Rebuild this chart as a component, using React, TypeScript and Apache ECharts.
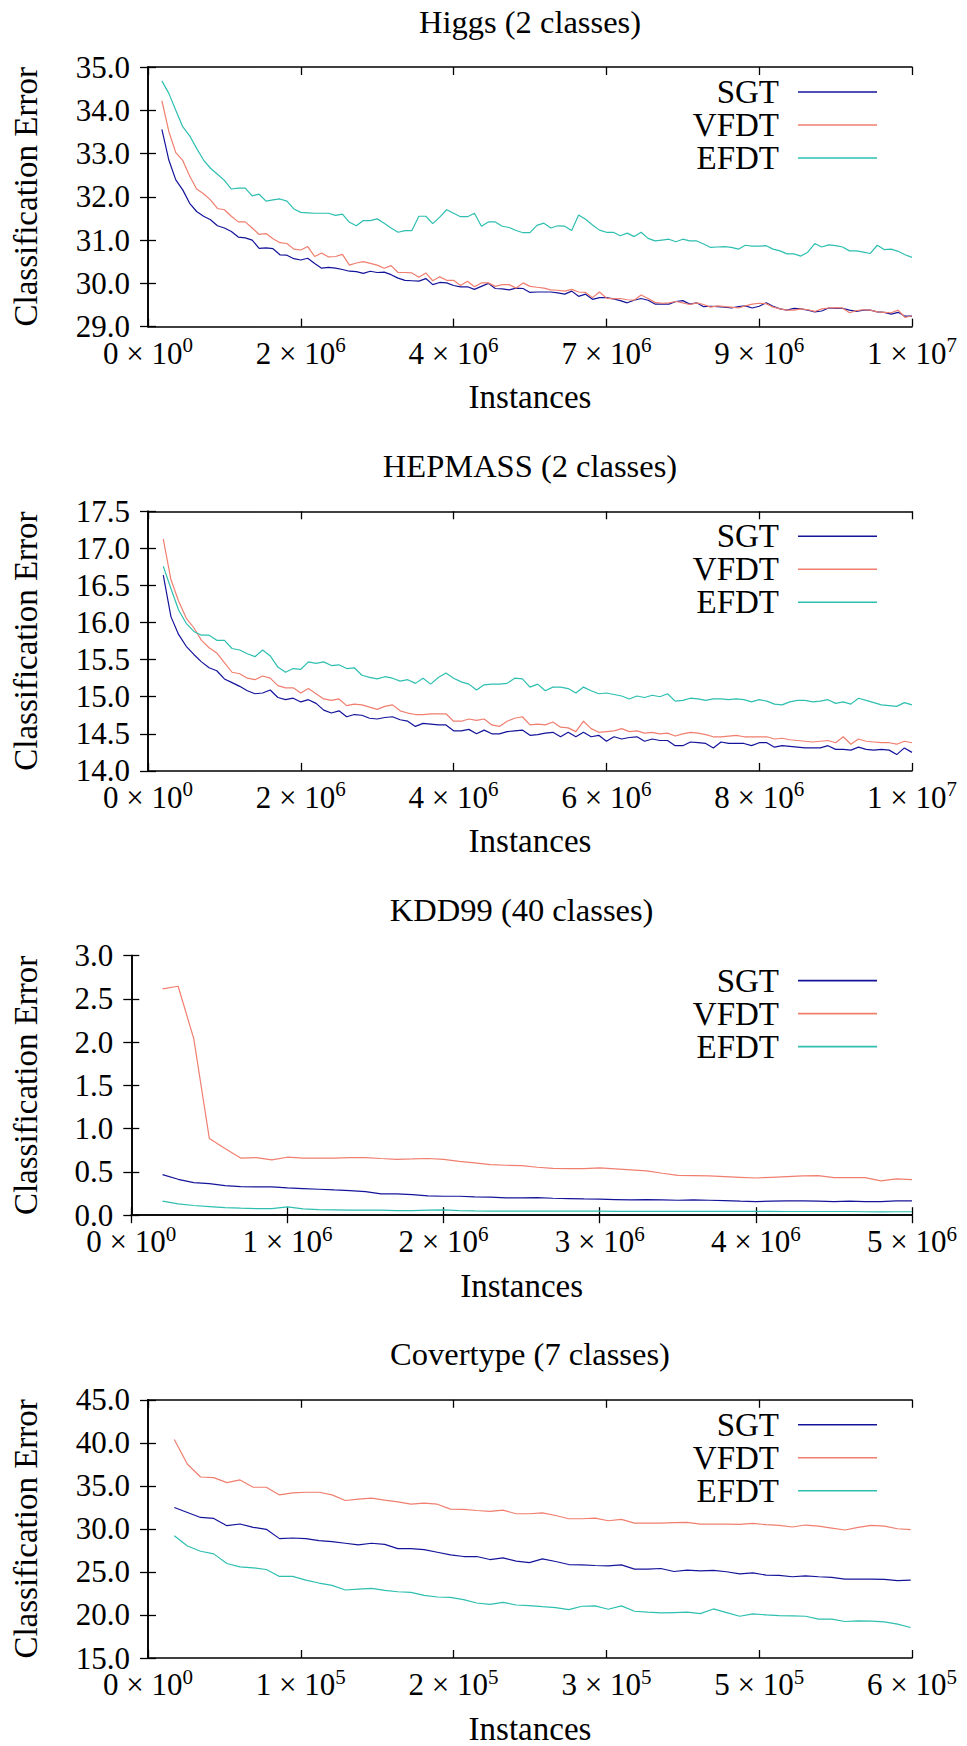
import React, { useEffect, useRef } from 'react';
import * as echarts from 'echarts';

// ---------- data ----------
const seriesNames = ['SGT', 'VFDT', 'EFDT'];
const seriesColors = ['#14149a', '#f07f6f', '#2ebfb0'];

const yAxisName = 'Classification Error';
const xAxisName = 'Instances';

// Higgs (2 classes): evaluated every 100k instances, starting at 200k
const higgsTitle = 'Higgs (2 classes)';
const higgsStart = 200000;
const higgsStep = 100000;
const higgsSGT = [
  33.56, 32.85, 32.39, 32.16, 31.85, 31.66, 31.55, 31.47, 31.33,
  31.28, 31.2, 31.07, 31.05, 31.0, 30.81, 30.82, 30.8, 30.66, 30.65,
  30.57, 30.54, 30.58, 30.46, 30.35, 30.37, 30.35, 30.32, 30.28, 30.27,
  30.23, 30.28, 30.25, 30.26, 30.2, 30.12, 30.07, 30.06, 30.05, 30.11,
  29.97, 30.02, 30.01, 29.95, 29.92, 29.92, 29.86, 29.93, 30.0, 29.88,
  29.87, 29.85, 29.89, 29.88, 29.79, 29.8, 29.8, 29.8, 29.78, 29.75,
  29.82, 29.7, 29.75, 29.63, 29.67, 29.67, 29.64, 29.6, 29.55, 29.61,
  29.65, 29.61, 29.52, 29.52, 29.52, 29.58, 29.6, 29.52, 29.55, 29.46,
  29.47, 29.46, 29.45, 29.43, 29.46, 29.48, 29.43, 29.47, 29.55, 29.47,
  29.41, 29.38, 29.42, 29.41, 29.38, 29.34, 29.36, 29.43, 29.42, 29.42,
  29.38, 29.35, 29.38, 29.38, 29.34, 29.33, 29.29, 29.33, 29.24, 29.24,
];
const higgsVFDT = [
  34.22, 33.51, 33.02, 32.84, 32.48, 32.18, 32.07, 31.93, 31.73,
  31.7, 31.55, 31.42, 31.42, 31.28, 31.13, 31.15, 31.03, 30.94, 30.92,
  30.79, 30.77, 30.85, 30.62, 30.7, 30.61, 30.62, 30.67, 30.42, 30.47,
  30.5, 30.46, 30.42, 30.35, 30.41, 30.25, 30.25, 30.24, 30.14, 30.24,
  30.06, 30.15, 30.07, 30.07, 29.95, 30.05, 29.92, 30.01, 30.01, 29.93,
  29.97, 29.97, 29.89, 30.01, 29.93, 29.91, 29.89, 29.85, 29.84, 29.82,
  29.86, 29.8, 29.79, 29.67, 29.8, 29.66, 29.64, 29.65, 29.62, 29.61,
  29.73, 29.65, 29.56, 29.54, 29.55, 29.58, 29.55, 29.51, 29.55, 29.51,
  29.45, 29.48, 29.46, 29.45, 29.43, 29.48, 29.52, 29.54, 29.53, 29.45,
  29.41, 29.38, 29.38, 29.41, 29.39, 29.35, 29.41, 29.43, 29.44, 29.43,
  29.32, 29.37, 29.39, 29.38, 29.34, 29.33, 29.32, 29.38, 29.21, 29.25,
];
const higgsEFDT = [
  34.68, 34.39, 34.0, 33.62, 33.41, 33.12, 32.85, 32.66, 32.52,
  32.38, 32.18, 32.2, 32.2, 32.02, 32.06, 31.9, 31.93, 31.95, 31.9,
  31.72, 31.64, 31.63, 31.62, 31.62, 31.62, 31.57, 31.6, 31.41, 31.33,
  31.45, 31.45, 31.49, 31.39, 31.28, 31.18, 31.22, 31.22, 31.55, 31.55,
  31.38, 31.53, 31.7, 31.62, 31.54, 31.54, 31.62, 31.32, 31.42, 31.42,
  31.32, 31.29, 31.22, 31.17, 31.17, 31.34, 31.39, 31.28, 31.33, 31.32,
  31.22, 31.58, 31.48, 31.35, 31.23, 31.18, 31.18, 31.1, 31.16, 31.08,
  31.18, 31.04, 30.98, 31.0, 31.02, 30.96, 31.02, 30.98, 30.98, 30.91,
  30.83, 30.84, 30.85, 30.83, 30.79, 30.88, 30.86, 30.86, 30.87, 30.79,
  30.75, 30.68, 30.68, 30.63, 30.72, 30.92, 30.84, 30.89, 30.87, 30.84,
  30.75, 30.75, 30.72, 30.69, 30.88, 30.78, 30.79, 30.74, 30.66, 30.6,
];

// HEPMASS (2 classes)
const hepTitle = 'HEPMASS (2 classes)';
const hepStart = 210000;
const hepStep = 105000;
const hepSGT = [
  16.64, 16.08, 15.84, 15.68, 15.57, 15.47, 15.39, 15.35, 15.24,
  15.19, 15.14, 15.08, 15.04, 15.05, 15.09, 14.99, 14.96, 14.98, 14.93,
  14.96, 14.91, 14.82, 14.78, 14.81, 14.73, 14.76, 14.75, 14.71, 14.7,
  14.72, 14.73, 14.69, 14.67, 14.6, 14.64, 14.63, 14.62, 14.62, 14.54,
  14.54, 14.56, 14.5, 14.55, 14.5, 14.5, 14.53, 14.54, 14.55, 14.48,
  14.49, 14.51, 14.52, 14.46, 14.52, 14.46, 14.52, 14.46, 14.48, 14.4,
  14.46, 14.43, 14.45, 14.46, 14.4, 14.43, 14.41, 14.41, 14.34, 14.34,
  14.39, 14.38, 14.37, 14.31, 14.39, 14.37, 14.37, 14.37, 14.34, 14.38,
  14.38, 14.32, 14.34, 14.33, 14.32, 14.31, 14.31, 14.31, 14.34, 14.29,
  14.29, 14.28, 14.32, 14.29, 14.28, 14.29, 14.28, 14.22, 14.31, 14.25,
];
const hepVFDT = [
  17.125, 16.58, 16.29, 16.06, 15.93, 15.76, 15.66, 15.59, 15.46,
  15.33, 15.31, 15.25, 15.23, 15.28, 15.25, 15.15, 15.12, 15.12, 15.05,
  15.11, 15.04, 14.97, 14.95, 14.97, 14.88, 14.9, 14.89, 14.86, 14.83,
  14.87, 14.89, 14.81, 14.78, 14.76, 14.76, 14.77, 14.77, 14.77, 14.67,
  14.67, 14.7, 14.68, 14.7, 14.62, 14.6, 14.67, 14.71, 14.73, 14.62,
  14.63, 14.62, 14.66, 14.59, 14.58, 14.53, 14.67, 14.57, 14.52, 14.53,
  14.54, 14.57, 14.53, 14.54, 14.51, 14.52, 14.5, 14.51, 14.47, 14.5,
  14.52, 14.51, 14.49, 14.46, 14.46, 14.47, 14.48, 14.46, 14.46, 14.46,
  14.46, 14.43, 14.44, 14.42, 14.41, 14.4, 14.39, 14.4, 14.41, 14.38,
  14.46, 14.36, 14.43, 14.4, 14.39, 14.38, 14.38, 14.36, 14.4, 14.38,
];
const hepEFDT = [
  16.76, 16.46, 16.17, 15.99, 15.88, 15.83, 15.83, 15.76, 15.76,
  15.65, 15.63, 15.58, 15.54, 15.63, 15.55, 15.4, 15.33, 15.38, 15.37,
  15.47, 15.45, 15.47, 15.42, 15.43, 15.38, 15.39, 15.29, 15.26, 15.24,
  15.27, 15.25, 15.21, 15.23, 15.18, 15.25, 15.17, 15.26, 15.32, 15.25,
  15.2, 15.17, 15.09, 15.16, 15.17, 15.17, 15.18, 15.25, 15.24, 15.13,
  15.17, 15.08, 15.13, 15.13, 15.11, 15.05, 15.13, 15.08, 15.04, 15.05,
  15.03, 15.01, 14.97, 15.01, 14.99, 15.02, 15.0, 15.04, 14.94, 14.95,
  14.98, 14.97, 14.95, 14.97, 14.97, 14.96, 14.97, 14.96, 14.93, 14.96,
  14.94, 14.9, 14.89, 14.93, 14.95, 14.95, 14.93, 14.94, 14.96, 14.91,
  14.93, 14.9, 14.98, 14.95, 14.92, 14.89, 14.88, 14.87, 14.92, 14.89,
];

// KDD99 (40 classes)
const kddTitle = 'KDD99 (40 classes)';
const kddStart = 196000;
const kddStep = 98000;
const kddSGT = [
  0.469, 0.415, 0.377, 0.365, 0.342, 0.331, 0.327, 0.327, 0.315,
  0.308, 0.3, 0.292, 0.285, 0.273, 0.246, 0.246, 0.238, 0.223, 0.219,
  0.219, 0.212, 0.208, 0.2, 0.2, 0.204, 0.196, 0.192, 0.188, 0.185,
  0.181, 0.177, 0.181, 0.177, 0.173, 0.177, 0.173, 0.169, 0.162, 0.158,
  0.162, 0.165, 0.165, 0.162, 0.158, 0.162, 0.158, 0.158, 0.165, 0.165,
];
const kddVFDT = [
  2.615, 2.646, 2.04, 0.885, 0.77, 0.66, 0.665, 0.64, 0.67,
  0.66, 0.66, 0.66, 0.665, 0.665, 0.655, 0.646, 0.65, 0.655, 0.646,
  0.623, 0.604, 0.585, 0.577, 0.573, 0.554, 0.542, 0.538, 0.538, 0.546,
  0.535, 0.523, 0.512, 0.485, 0.46, 0.458, 0.454, 0.446, 0.438, 0.43,
  0.438, 0.446, 0.454, 0.458, 0.435, 0.435, 0.435, 0.396, 0.419, 0.412,
];
const kddEFDT = [
  0.162, 0.131, 0.112, 0.1, 0.088, 0.081, 0.077, 0.077, 0.096,
  0.073, 0.065, 0.062, 0.058, 0.058, 0.058, 0.054, 0.054, 0.058, 0.062,
  0.054, 0.05, 0.048, 0.048, 0.048, 0.048, 0.046, 0.046, 0.046, 0.046,
  0.045, 0.045, 0.045, 0.045, 0.045, 0.045, 0.045, 0.044, 0.044, 0.044,
  0.044, 0.043, 0.043, 0.043, 0.043, 0.043, 0.04, 0.038, 0.04, 0.04,
];

// Covertype (7 classes)
const covTitle = 'Covertype (7 classes)';
const covStart = 20000;
const covStep = 10000;
const covSGT = [
  32.49, 31.91, 31.33, 31.22, 30.37, 30.57, 30.18, 29.95, 28.87,
  28.94, 28.87, 28.64, 28.52, 28.33, 28.14, 28.33, 28.21, 27.71, 27.71,
  27.6, 27.29, 26.98, 26.79, 26.79, 26.44, 26.63, 26.25, 26.09, 26.52,
  26.21, 25.86, 25.82, 25.75, 25.71, 25.82, 25.32, 25.32, 25.4, 25.05,
  25.21, 25.13, 25.17, 25.02, 24.78, 24.9, 24.63, 24.59, 24.44, 24.55,
  24.44, 24.36, 24.17, 24.17, 24.17, 24.13, 23.98, 24.05,
];
const covVFDT = [
  40.38, 37.51, 36.03, 35.96, 35.38, 35.69, 34.84, 34.84, 33.95,
  34.18, 34.26, 34.26, 33.95, 33.3, 33.45, 33.57, 33.34, 33.14, 32.87,
  32.99, 32.87, 32.3, 32.26, 32.14, 32.03, 32.18, 31.76, 31.76, 31.87,
  31.56, 31.18, 31.18, 31.26, 30.95, 31.1, 30.68, 30.68, 30.68, 30.72,
  30.76, 30.56, 30.56, 30.56, 30.52, 30.64, 30.49, 30.41, 30.22, 30.45,
  30.33, 30.1, 29.87, 30.18, 30.41, 30.33, 30.02, 29.91,
];
const covEFDT = [
  29.21, 28.02, 27.4, 27.1, 25.98, 25.59, 25.48, 25.28, 24.48,
  24.48, 24.05, 23.71, 23.44, 22.9, 23.01, 23.09, 22.86, 22.7, 22.63,
  22.28, 22.09, 22.05, 21.78, 21.39, 21.24, 21.47, 21.16, 21.09, 20.97,
  20.86, 20.62, 21.01, 21.05, 20.66, 21.05, 20.43, 20.32, 20.24, 20.28,
  20.32, 20.16, 20.7, 20.28, 19.85, 20.12, 20.01, 19.93, 19.89, 19.85,
  19.51, 19.51, 19.24, 19.31, 19.28, 19.2, 18.93, 18.54,
];

// axis ranges (x: total instances split in 5 tick intervals; y: error range)
const higgsX = [0, 11000000, 2200000];
const higgsY = [29, 35, 1];
const hepX = [0, 10500000, 2100000];
const hepY = [14, 17.5, 0.5];
const kddX = [0, 4900000, 980000];
const kddY = [0, 3, 0.5];
const covX = [0, 581000, 116200];
const covY = [15, 45, 5];

// ---------- layout / style ----------
const FONT = 'Liberation Serif';
const W = 967;
const H = 1746;
const PLOT_RIGHT = 912;
const PLOT_H = 259.6;

const panels = [
  { title: higgsTitle, left: 148, top: 67, x: higgsX, y: higgsY, start: higgsStart, step: higgsStep, data: [higgsSGT, higgsVFDT, higgsEFDT] },
  { title: hepTitle, left: 148, top: 511.3, x: hepX, y: hepY, start: hepStart, step: hepStep, data: [hepSGT, hepVFDT, hepEFDT] },
  { title: kddTitle, left: 131.3, top: 955.6, x: kddX, y: kddY, start: kddStart, step: kddStep, data: [kddSGT, kddVFDT, kddEFDT] },
  { title: covTitle, left: 148, top: 1399.8, x: covX, y: covY, start: covStart, step: covStep, data: [covSGT, covVFDT, covEFDT] },
];

function sciLabel(v: number): string {
  if (v === 0) return '{b|0 × 10}{s|0}';
  let e = Math.floor(Math.log10(v) + 1e-9);
  let m = Math.round(v / Math.pow(10, e));
  if (m >= 10) {
    m = 1;
    e += 1;
  }
  return `{b|${m} × 10}{s|${e}}`;
}

function buildOption() {
  const grid: any[] = [];
  const xAxis: any[] = [];
  const yAxis: any[] = [];
  const series: any[] = [];
  const title: any[] = [];
  const legend: any[] = [];

  const axisLine = { show: true, lineStyle: { color: '#000', width: 1.6 } };
  const axisTick = { show: true, inside: true, length: 8, lineStyle: { color: '#000', width: 1.3 } };

  panels.forEach((p, i) => {
    const width = PLOT_RIGHT - p.left;
    grid.push({ left: p.left, top: p.top, width, height: PLOT_H, containLabel: false });

    const xBase = {
      type: 'value',
      gridIndex: i,
      min: p.x[0],
      max: p.x[1],
      interval: p.x[2],
      splitLine: { show: false },
      axisLine,
      axisTick,
    };
    xAxis.push({
      ...xBase,
      position: 'bottom',
      name: xAxisName,
      nameLocation: 'middle',
      nameGap: 54,
      nameTextStyle: { fontFamily: FONT, fontSize: 33, color: '#000' },
      axisLabel: {
        show: true,
        margin: 8,
        showMinLabel: true,
        showMaxLabel: true,
        fontFamily: FONT,
        formatter: (v: number) => sciLabel(v),
        rich: {
          b: { fontFamily: FONT, fontSize: 31, color: '#000', verticalAlign: 'bottom', padding: [3, 0, 0, 0] },
          s: { fontFamily: FONT, fontSize: 21, color: '#000', verticalAlign: 'top' },
        },
      },
    });
    xAxis.push({ ...xBase, position: 'top', axisLabel: { show: false } });

    const yBase = {
      type: 'value',
      gridIndex: i,
      min: p.y[0],
      max: p.y[1],
      interval: p.y[2],
      splitLine: { show: false },
      axisLine,
      axisTick,
    };
    yAxis.push({
      ...yBase,
      position: 'left',
      name: yAxisName,
      nameLocation: 'middle',
      nameGap: p.left - 42,
      nameRotate: 90,
      nameTextStyle: { fontFamily: FONT, fontSize: 33, color: '#000' },
      axisLabel: {
        show: true,
        margin: 18,
        showMinLabel: true,
        showMaxLabel: true,
        fontFamily: FONT,
        fontSize: 31,
        color: '#000',
        formatter: (v: number) => v.toFixed(1),
      },
    });
    yAxis.push({ ...yBase, position: 'right', axisLabel: { show: false } });

    p.data.forEach((vals, s) => {
      series.push({
        type: 'line',
        name: seriesNames[s],
        xAxisIndex: i * 2,
        yAxisIndex: i * 2,
        data: vals.map((v, k) => [p.start + k * p.step, v]),
        showSymbol: false,
        symbol: 'none',
        clip: true,
        color: seriesColors[s],
        lineStyle: { width: 1.2, color: seriesColors[s] },
        itemStyle: { color: seriesColors[s] },
        emphasis: { disabled: true },
      });
    });

    title.push({
      text: p.title,
      left: (p.left + PLOT_RIGHT) / 2,
      top: p.top - 62,
      textAlign: 'center',
      padding: 0,
      textStyle: { fontFamily: FONT, fontSize: 32.5, fontWeight: 'normal', color: '#000' },
    });

    legend.push({
      orient: 'vertical',
      right: W - 877,
      top: p.top + 8.5,
      align: 'right',
      icon: 'rect',
      itemWidth: 79,
      itemHeight: 1.6,
      itemGap: 0,
      padding: 0,
      selectedMode: false,
      data: seriesNames,
      textStyle: { fontFamily: FONT, fontSize: 33, color: '#000', lineHeight: 29.5, padding: [0, 14, 0, 0] },
    });
  });

  return {
    animation: false,
    backgroundColor: '#fff',
    textStyle: { fontFamily: FONT },
    title,
    legend,
    grid,
    xAxis,
    yAxis,
    series,
  };
}

export default function App() {
  const ref = useRef<HTMLDivElement>(null);
  useEffect(() => {
    if (!ref.current) return;
    const chart = echarts.init(ref.current, undefined, { renderer: 'svg' });
    chart.setOption(buildOption() as any);
    return () => chart.dispose();
  }, []);
  return (
    <div
      ref={ref}
      style={{ position: 'absolute', left: 0, top: 0, width: W, height: H, background: '#fff' }}
    />
  );
}
